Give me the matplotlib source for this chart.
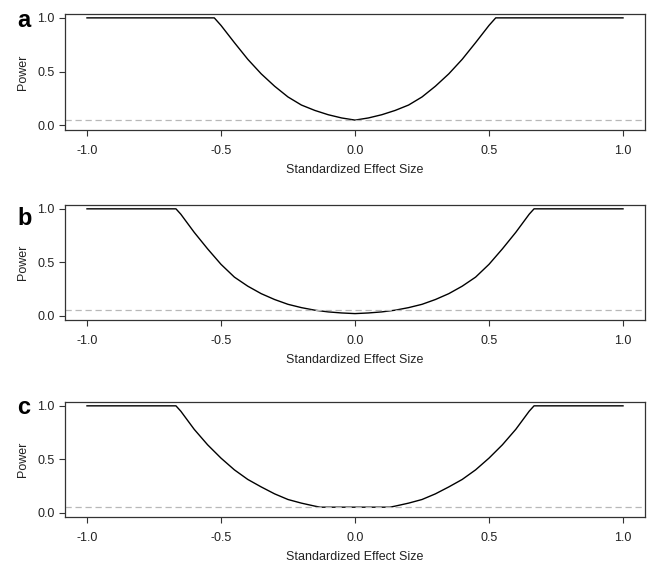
import matplotlib
matplotlib.use("Agg")
import matplotlib.pyplot as plt
import numpy as np

plt.rcParams['font.family'] = ['Liberation Sans', 'DejaVu Sans']

# Panel a: effect size vs power
x_a = [-1.0, -0.525, -0.50, -0.45, -0.40, -0.35, -0.30, -0.25, -0.20, -0.15, -0.10, -0.05, 0.0,
       0.05, 0.10, 0.15, 0.20, 0.25, 0.30, 0.35, 0.40, 0.45, 0.50, 0.525, 1.0]
y_a = [1.0, 1.0, 0.93, 0.77, 0.615, 0.48, 0.365, 0.265, 0.19, 0.14, 0.10, 0.07, 0.05,
       0.07, 0.10, 0.14, 0.19, 0.265, 0.365, 0.48, 0.615, 0.77, 0.93, 1.0, 1.0]

# Panel b
x_b = [-1.0, -0.668, -0.65, -0.60, -0.55, -0.50, -0.45, -0.40, -0.35, -0.30, -0.25, -0.20, -0.15,
       -0.10, -0.05, 0.0, 0.05, 0.10, 0.15, 0.20, 0.25, 0.30, 0.35, 0.40, 0.45, 0.50, 0.55,
       0.60, 0.65, 0.668, 1.0]
y_b = [1.0, 1.0, 0.95, 0.78, 0.625, 0.48, 0.36, 0.275, 0.205, 0.15, 0.105, 0.074, 0.05,
       0.034, 0.024, 0.018, 0.024, 0.034, 0.05, 0.074, 0.105, 0.15, 0.205, 0.275, 0.36, 0.48, 0.625,
       0.78, 0.95, 1.0, 1.0]

# Panel c
x_c = [-1.0, -0.668, -0.65, -0.60, -0.55, -0.50, -0.45, -0.40, -0.35, -0.30, -0.25, -0.20, -0.15,
       -0.13, 0.13, 0.15, 0.20, 0.25, 0.30, 0.35, 0.40, 0.45, 0.50, 0.55, 0.60, 0.65, 0.668, 1.0]
y_c = [1.0, 1.0, 0.95, 0.78, 0.635, 0.51, 0.40, 0.31, 0.24, 0.175, 0.122, 0.088, 0.06,
       0.05, 0.05, 0.06, 0.088, 0.122, 0.175, 0.24, 0.31, 0.40, 0.51, 0.635, 0.78, 0.95, 1.0, 1.0]

alpha_level = 0.05
x_ticks = [-1.0, -0.5, 0.0, 0.5, 1.0]
x_ticklabels = ["-1.0", "-0.5", "0.0", "0.5", "1.0"]
y_ticks = [0.0, 0.5, 1.0]
y_ticklabels = ["0.0", "0.5", "1.0"]
panel_letters = ["a", "b", "c"]
xlabel = "Standardized Effect Size"
ylabel = "Power"

W, H = 651, 564
fig = plt.figure(figsize=(W / 100, H / 100), dpi=100)

boxes = [(14, 130), (205, 320), (402, 517)]
letter_base = [27, 225, 414]
data = [(x_a, y_a), (x_b, y_b), (x_c, y_c)]

for (top, bot), (xs, ys), letter, lb in zip(boxes, data, panel_letters, letter_base):
    ax = fig.add_axes([65 / W, 1 - bot / H, 580 / W, (bot - top) / H])
    ax.plot(xs, ys, color='black', lw=1.0, solid_joinstyle='round')
    ax.axhline(alpha_level, color='#b8b8b8', lw=0.9, ls=(0, (5, 3)))
    ax.set_xlim(-1.082, 1.082)
    ax.set_ylim(-0.042, 1.036)
    ax.set_xticks(x_ticks)
    ax.set_xticklabels(x_ticklabels)
    ax.set_yticks(y_ticks)
    ax.set_yticklabels(y_ticklabels)
    ax.tick_params(axis='both', direction='out', length=4.5, width=0.8,
                   labelsize=9, color='#333333', labelcolor='#222222')
    ax.tick_params(axis='x', pad=6)
    ax.tick_params(axis='y', pad=3)
    for s in ax.spines.values():
        s.set_linewidth(0.9)
        s.set_color('#333333')
    ax.set_xlabel(xlabel, fontsize=9, color='#222222', labelpad=5)
    ax.set_ylabel(ylabel, fontsize=9, color='#222222', labelpad=6)
    fig.text(17 / W, 1 - lb / H, letter, fontsize=17, fontweight='bold',
             ha='left', va='baseline')

fig.savefig("out.png", dpi=100)
